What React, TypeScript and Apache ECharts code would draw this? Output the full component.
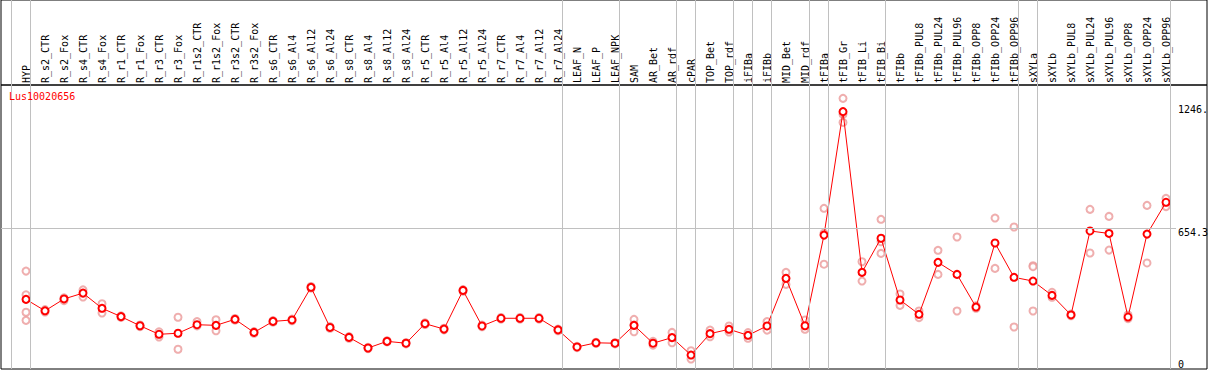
import React, { useEffect, useRef } from "react";
import * as echarts from "echarts";

const categories = [
  "HYP", "R_s2_CTR", "R_s2_Fox", "R_s4_CTR", "R_s4_Fox", "R_r1_CTR", "R_r1_Fox", "R_r3_CTR", "R_r3_Fox",
  "R_r1s2_CTR", "R_r1s2_Fox", "R_r3s2_CTR", "R_r3s2_Fox", "R_s6_CTR", "R_s6_Al4", "R_s6_Al12", "R_s6_Al24",
  "R_s8_CTR", "R_s8_Al4", "R_s8_Al12", "R_s8_Al24", "R_r5_CTR", "R_r5_Al4", "R_r5_Al12", "R_r5_Al24",
  "R_r7_CTR", "R_r7_Al4", "R_r7_Al12", "R_r7_Al24", "LEAF_N", "LEAF_P", "LEAF_NPK", "SAM", "AR_Bet", "AR_rdf",
  "cPAR", "TOP_Bet", "TOP_rdf", "iFIBa", "iFIBb", "MID_Bet", "MID_rdf", "tFIBa", "tFIB_Gr", "tFIB_Li", "tFIB_Bi",
  "tFIBb", "tFIBb_PUL8", "tFIBb_PUL24", "tFIBb_PUL96", "tFIBb_OPP8", "tFIBb_OPP24", "tFIBb_OPP96",
  "sXYLa", "sXYLb", "sXYLb_PUL8", "sXYLb_PUL24", "sXYLb_PUL96", "sXYLb_OPP8", "sXYLb_OPP24", "sXYLb_OPP96",
];

const means = [
  311, 256, 313, 341, 268, 228, 184, 143, 148, 189, 186, 215, 152, 205, 212, 369, 176,
  128, 77, 109, 100, 194, 168, 354, 183, 220, 220, 220, 164, 82, 102, 100, 186, 100, 127,
  43, 146, 167, 138, 183, 412, 184, 620, 1214, 441, 605, 308, 239, 489, 431, 274, 582, 417,
  399, 330, 236, 640, 628, 226, 625, 778,
];

const replicates: number[][] = [
  [447, 333, 249, 210], [262, 250], [318, 305], [357, 322], [290, 245], [232, 224], [188, 180],
  [155, 130], [225, 71], [204, 183], [213, 160], [219, 211], [156, 148], [209, 201], [216, 208],
  [373, 365], [180, 172], [132, 124], [80, 74], [112, 106], [103, 97], [198, 190], [172, 164],
  [358, 350], [187, 179], [224, 216], [224, 216], [224, 216], [168, 160], [85, 79], [105, 99],
  [103, 97], [215, 188, 155], [109, 91], [152, 102], [64, 24], [163, 131], [183, 154], [151, 124],
  [204, 163], [441, 383], [212, 167], [749, 630, 480], [1278, 1202, 1162], [492, 399],
  [696, 532, 588], [337, 282], [255, 223], [547, 431], [611, 255], [280, 268], [702, 460],
  [659, 178], [473, 468, 255], [345, 321], [240, 232], [744, 534], [710, 548], [236, 218],
  [763, 486], [797, 757],
];

// index of the last category of each group (separator drawn just after it)
const groupEnds = [-1, 0, 28, 31, 34, 35, 37, 38, 39, 41, 42, 45, 52, 53, 60];

const yLabels = [
  { value: 0, text: "0", line: false },
  { value: 654.3, text: "654.3", line: true },
  { value: 1246, text: "1246.", line: false },
];

const title = "Lus10020656";

const FONT = "DejaVu Sans Mono";

export default function App() {
  const ref = useRef<HTMLDivElement>(null);

  useEffect(() => {
    if (!ref.current) return;
    const chart = echarts.init(ref.current, undefined, { renderer: "svg" });

    const repData: number[][] = [];
    replicates.forEach((reps, i) => reps.forEach((v) => repData.push([i, v])));
    const meanData = means.map((v, i) => [i, v]);

    const xMin = -1.316;
    const xMax = 60.526;

    const option: any = {
      animation: false,
      title: {
        text: title,
        left: 9,
        top: 91,
        padding: 0,
        textStyle: { fontFamily: FONT, fontSize: 10, color: "#ff0000", fontWeight: "normal" },
      },
      grid: [
        { left: 1, top: 0, right: 2, height: 85, show: true, borderColor: "#000", borderWidth: 1, backgroundColor: "transparent" },
        { left: 1, top: 85, right: 2, bottom: 1, show: true, borderColor: "#000", borderWidth: 1, backgroundColor: "transparent" },
        { left: 1, top: 0, right: 33, bottom: 1 },
        { left: 16.5, top: 85, width: 1159, height: 1 },
      ],
      xAxis: [
        { gridIndex: 0, type: "value", show: false },
        { gridIndex: 1, type: "value", show: false },
        { gridIndex: 2, type: "value", min: xMin, max: xMax, show: false },
        {
          gridIndex: 3,
          type: "category",
          data: categories,
          position: "top",
          boundaryGap: true,
          axisLine: { show: false },
          axisTick: { show: false },
          splitLine: { show: false },
          axisLabel: { rotate: 90, interval: 0, margin: 2, fontFamily: FONT, fontSize: 10, color: "#000" },
        },
      ],
      yAxis: [
        { gridIndex: 0, type: "value", show: false },
        { gridIndex: 1, type: "value", show: false },
        { gridIndex: 2, type: "value", min: -24, max: 1751, show: false },
        { gridIndex: 3, type: "value", show: false },
      ],
      series: [
        {
          type: "line",
          xAxisIndex: 2,
          yAxisIndex: 2,
          data: [],
          silent: true,
          markLine: {
            silent: true,
            symbol: "none",
            animation: false,
            lineStyle: { color: "#c0c0c0", width: 1, type: "solid" },
            label: { show: false },
            data: groupEnds.map((g) => ({ xAxis: g + 0.23 })),
          },
        },
        {
          type: "line",
          xAxisIndex: 2,
          yAxisIndex: 2,
          data: [],
          silent: true,
          markLine: {
            silent: true,
            symbol: "none",
            animation: false,
            data: yLabels.map((l) => ({
              yAxis: l.value,
              lineStyle: { color: l.line ? "#c0c0c0" : "rgba(0,0,0,0)", width: 1, type: "solid" },
              label: {
                show: true,
                position: "end",
                distance: 2,
                formatter: l.text,
                fontFamily: FONT,
                fontSize: 10,
                color: "#000",
                verticalAlign: l.value === 0 ? "middle" : "top",
              },
            })),
          },
        },
        {
          type: "scatter",
          xAxisIndex: 2,
          yAxisIndex: 2,
          data: repData,
          symbol: "emptyCircle",
          symbolSize: 7,
          itemStyle: { color: "#eb9a9a", borderColor: "#eb9a9a", borderWidth: 1.5 },
          silent: true,
          z: 3,
        },
        {
          type: "line",
          xAxisIndex: 2,
          yAxisIndex: 2,
          data: meanData,
          symbol: "emptyCircle",
          symbolSize: 7,
          showSymbol: true,
          lineStyle: { color: "#ff0000", width: 1 },
          itemStyle: { color: "#ff0000", borderColor: "#ff0000", borderWidth: 1.5 },
          silent: true,
          z: 4,
        },
      ],
    };

    chart.setOption(option);
    return () => chart.dispose();
  }, []);

  return (
    <div
      ref={ref}
      style={{ position: "fixed", left: 0, top: 0, width: 1209, height: 370, background: "#fff" }}
    />
  );
}
